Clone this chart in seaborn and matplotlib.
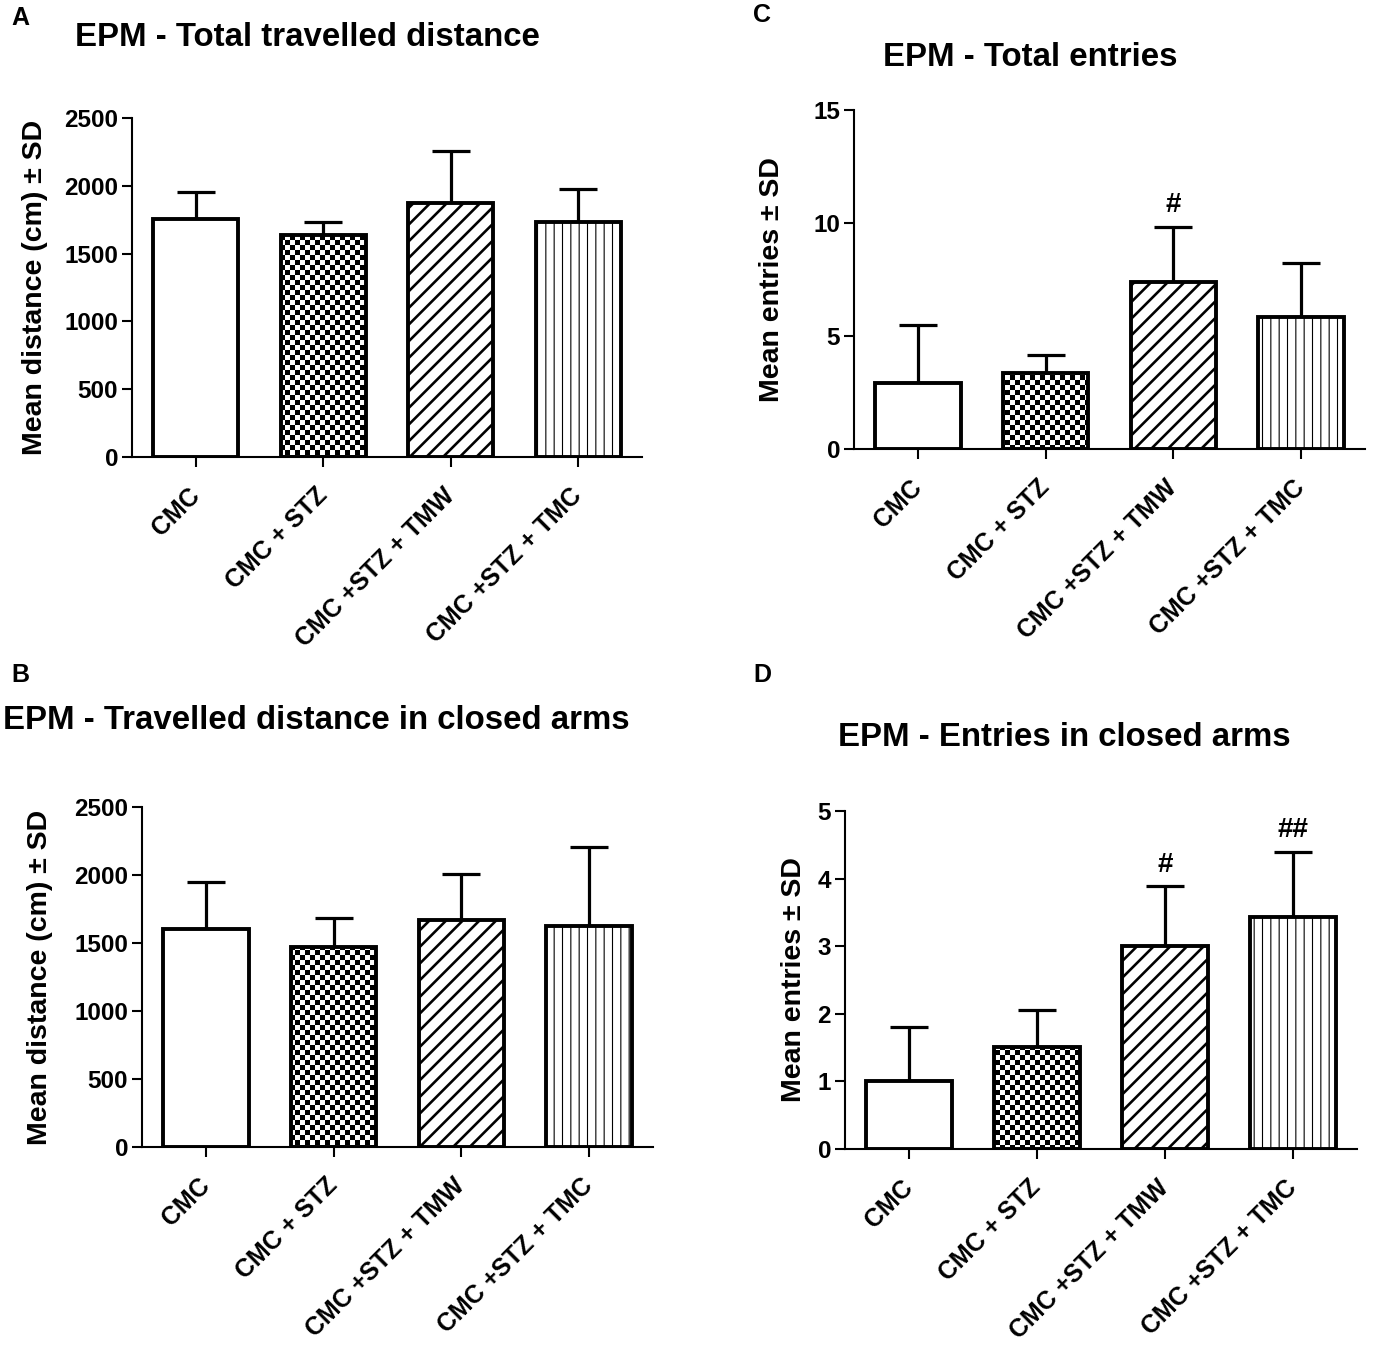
import numpy as np
import pandas as pd
import seaborn as sns
import matplotlib
matplotlib.use("Agg")
import matplotlib.pyplot as plt
import matplotlib.hatch as mhatch
from matplotlib.path import Path

# ---- data ----
groups = ["CMC", "CMC + STZ", "CMC +STZ + TMW", "CMC +STZ + TMC"]

dist_total_mean = [1758, 1638, 1874, 1733]
dist_total_sd = [198, 92, 380, 245]

dist_closed_mean = [1600, 1472, 1672, 1628]
dist_closed_sd = [350, 214, 334, 578]

entries_total_mean = [2.9, 3.36, 7.37, 5.83]
entries_total_sd = [2.6, 0.8, 2.47, 2.42]
entries_total_sig = ["", "", "#", ""]

entries_closed_mean = [1.0, 1.51, 3.0, 3.43]
entries_closed_sd = [0.81, 0.54, 0.89, 0.97]
entries_closed_sig = ["", "", "#", "##"]


# ---- custom hatches (checkerboard, thick diagonals, thin verticals) ----
def _square(x0, y0, x1, y1):
    v = [(x0, y0), (x1, y0), (x1, y1), (x0, y1), (x0, y0)]
    c = [Path.MOVETO, Path.LINETO, Path.LINETO, Path.LINETO, Path.CLOSEPOLY]
    return v, c


def checker_path(n=20):
    verts, codes = [], []
    for i in range(n):
        for j in range(n):
            if (i + j) % 2 == 0:
                v, c = _square(i / n, j / n, (i + 1) / n, (j + 1) / n)
                verts += v
                codes += c
    return Path(np.array(verts), np.array(codes, dtype=Path.code_type))


def diag_path(n=6, w=0.026):
    verts, codes = [], []
    h = w / 2 * np.sqrt(2)
    t0, t1 = -0.2, 1.2
    for k in range(-2 * n, 2 * n + 1):
        c = k / n
        verts += [(c - h + t0, t0), (c - h + t1, t1), (c + h + t1, t1),
                  (c + h + t0, t0), (c - h + t0, t0)]
        codes += [Path.MOVETO, Path.LINETO, Path.LINETO, Path.LINETO, Path.CLOSEPOLY]
    return Path(np.array(verts), np.array(codes, dtype=Path.code_type))


def vert_path(n=12, w=0.011):
    verts, codes = [], []
    for k in range(n):
        x = (k + 0.5) / n
        v, c = _square(x - w / 2, -0.1, x + w / 2, 1.1)
        verts += v
        codes += c
    return Path(np.array(verts), np.array(codes, dtype=Path.code_type))


_custom = {"+": checker_path(), "/": diag_path(), "|": vert_path()}
_orig_get_path = mhatch.get_path


def _get_path(hatchpattern, density=6):
    if hatchpattern in _custom:
        return _custom[hatchpattern]
    return _orig_get_path(hatchpattern, density)


mhatch.get_path = _get_path
hatches = [None, "+", "/", "|"]

# ---- style ----
sns.set_style("ticks")
plt.rcParams["font.family"] = ["Liberation Sans", "DejaVu Sans"]
plt.rcParams["font.weight"] = "bold"
plt.rcParams["axes.labelweight"] = "bold"
plt.rcParams["hatch.linewidth"] = 0.01
plt.rcParams["hatch.color"] = "black"
for key in ("text.color", "axes.labelcolor", "xtick.color", "ytick.color", "axes.edgecolor"):
    plt.rcParams[key] = "black"

W, H = 1374, 1349
fig = plt.figure(figsize=(W / 100, H / 100), dpi=100)


def axes_px(left, right, top, bottom):
    return fig.add_axes([left / W, 1 - bottom / H, (right - left) / W, (bottom - top) / H])


def panel(ax, means, sds, ymax, yticks, ylabel, label_x, sig=None):
    df = pd.DataFrame({"group": groups, "mean": means})
    sns.barplot(data=df, x="group", y="mean", color="white", saturation=1,
                edgecolor="black", linewidth=2.8, width=0.67, errorbar=None, ax=ax)
    for bar, h in zip(ax.patches, hatches):
        bar.set_facecolor("white")
        if h:
            bar.set_hatch(h)
    x = np.arange(len(groups))
    ax.errorbar(x, means, yerr=[np.zeros(len(means)), sds], fmt="none",
                ecolor="black", elinewidth=2.3, capsize=14, capthick=2.3, zorder=0.9)
    if sig:
        for xi, m, s, t in zip(x, means, sds, sig):
            if t:
                ax.annotate(t, (xi, m + s), xytext=(0, 6), textcoords="offset points",
                            ha="center", va="bottom", fontsize=20, fontweight="bold")
    ax.set_xlim(-0.5, 3.5)
    ax.set_ylim(0, ymax)
    ax.set_yticks(yticks)
    ax.set_xlabel("")
    ax.set_ylabel(ylabel, fontsize=20.5, fontweight="bold")
    ax.yaxis.set_label_coords(label_x, 0.5)
    sns.despine(ax=ax)
    for sp in ("left", "bottom"):
        ax.spines[sp].set_linewidth(1.5)
    ax.tick_params(axis="both", width=1.5, length=7, labelsize=17.5, pad=3)
    ax.tick_params(axis="x", pad=18)
    for lab in ax.get_yticklabels():
        lab.set_fontweight("bold")
    ax.set_xticks(x)
    ax.set_xticklabels(groups, rotation=45, ha="right", va="center",
                       rotation_mode="anchor", fontsize=18, fontweight="bold")


axA = axes_px(132, 642, 118, 457)
panel(axA, dist_total_mean, dist_total_sd, 2500, range(0, 2501, 500),
      "Mean distance (cm) \u00b1 SD", -0.165)

axB = axes_px(142, 653, 807, 1147)
panel(axB, dist_closed_mean, dist_closed_sd, 2500, range(0, 2501, 500),
      "Mean distance (cm) \u00b1 SD", -0.175)

axC = axes_px(854, 1365, 110, 449)
panel(axC, entries_total_mean, entries_total_sd, 15, [0, 5, 10, 15],
      "Mean entries \u00b1 SD", -0.135, entries_total_sig)

axD = axes_px(845, 1357, 811, 1149)
panel(axD, entries_closed_mean, entries_closed_sd, 5, range(0, 6),
      "Mean entries \u00b1 SD", -0.075, entries_closed_sig)

# titles and panel letters
titles = [("EPM - Total travelled distance", 307, 38),
          ("EPM - Travelled distance in closed arms", 316, 720),
          ("EPM - Total entries", 1030, 58),
          ("EPM - Entries in closed arms", 1064, 737)]
for txt, cx, cy in titles:
    fig.text(cx / W, 1 - cy / H, txt, ha="center", va="center",
             fontsize=23.8, fontweight="bold")

for letter, lx, ly in [("A", 20, 18), ("B", 20, 675), ("C", 762, 15), ("D", 762, 675)]:
    fig.text(lx / W, 1 - ly / H, letter, ha="center", va="center",
             fontsize=18, fontweight="bold")

fig.savefig("out.png", dpi=100)
